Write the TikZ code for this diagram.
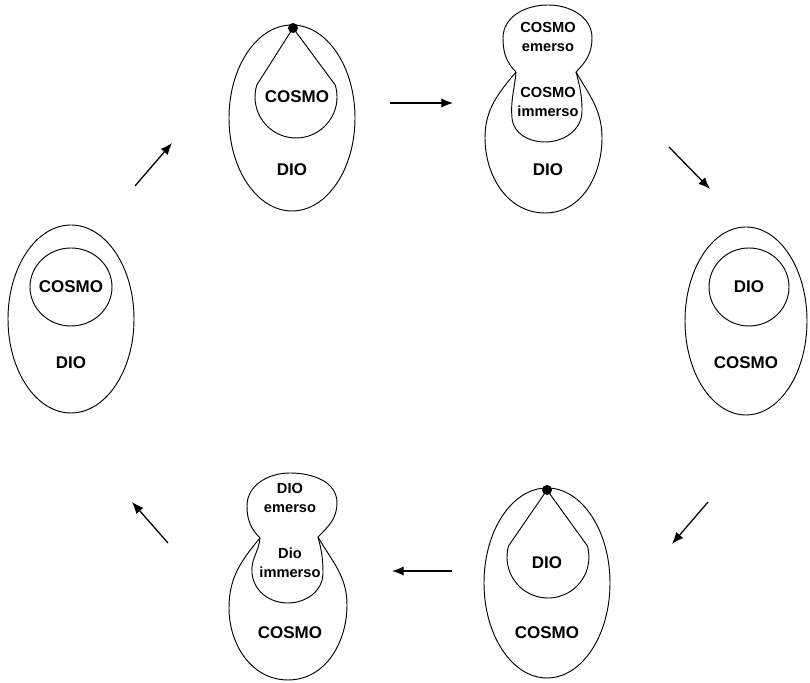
\documentclass[tikz,border=0pt]{standalone}
\usepackage{fontspec}
\setmainfont{Liberation Sans}
\usetikzlibrary{arrows.meta}

\begin{document}
\begin{tikzpicture}[x=0.03cm, y=0.03cm,
  outline/.style={line width=0.8pt},
  biglabel/.style={font=\fontsize{14.5}{16}\selectfont\bfseries},
  smalllabel/.style={font=\fontsize{12.5}{16.5}\selectfont\bfseries, align=center},
  flow/.style={-{Latex[length=10pt,width=8pt]}, line width=1.1pt}]
\useasboundingbox (0,0) rectangle (810,683);

% Stage 1: cosmo inside dio
\draw[outline] (71,364) ellipse (63 and 94);
\draw[outline] (71,396) ellipse (41 and 39);
\node[biglabel] (cosmoA) at (71,396) {COSMO};
\node[biglabel] (dioA) at (71,320) {DIO};

% Stage 2: cosmo hanging from a point of dio
\draw[outline] (292,565) ellipse (63 and 93);
\draw[outline] (293,655) -- (256.8,598) arc[start angle=163, end angle=377, radius=41] -- cycle;
\fill (293,655) circle (5);
\node[biglabel] (cosmoB) at (297,586) {COSMO};
\node[biglabel] (dioB) at (292,513) {DIO};

% Stage 3: cosmo emerging
\draw[outline] (516,611) to[out=135,in=270] (503,645) to[out=90,in=180] (548,678)
  to[out=0,in=90] (592,645) to[out=270,in=45] (576,611);
\draw[outline] (516,611) to[out=230,in=90] (485,545) to[out=270,in=180] (545,470)
  to[out=0,in=270] (602,545) to[out=90,in=300] (576,611);
\draw[outline] (516,611) to[out=265,in=95] (512,565) to[out=275,in=180] (545,541)
  to[out=0,in=270] (582,572) to[out=90,in=285] (576,611);
\node[smalllabel] (cosmoEm) at (548,646) {COSMO\\emerso};
\node[smalllabel] (cosmoIm) at (548,581) {COSMO\\immerso};
\node[biglabel] (dioC) at (548,513) {DIO};

% Stage 4: dio inside cosmo
\draw[outline] (746,362) ellipse (61 and 94);
\draw[outline] (749,396) ellipse (40 and 39);
\node[biglabel] (dioD) at (749,396) {DIO};
\node[biglabel] (cosmoD) at (746,320) {COSMO};

% Stage 5: dio hanging from a point of cosmo
\draw[outline] (547,100) ellipse (63 and 95);
\draw[outline] (547,193) -- (508.5,137) arc[start angle=164.4, end angle=375.6, radius=41] -- cycle;
\fill (547,193) circle (5);
\node[biglabel] (dioE) at (547,120) {DIO};
\node[biglabel] (cosmoE) at (547,50) {COSMO};

% Stage 6: dio emerging
\draw[outline] (260,145) to[out=135,in=270] (247,177) to[out=90,in=180] (290,210)
  to[out=0,in=90] (337,180) to[out=270,in=45] (318,146);
\draw[outline] (260,145) to[out=230,in=90] (229,75) to[out=270,in=180] (288,3)
  to[out=0,in=270] (347,78) to[out=90,in=300] (318,146);
\draw[outline] (260,145) to[out=265,in=95] (252,110) to[out=275,in=180] (288,80)
  to[out=0,in=270] (323,110) to[out=90,in=285] (318,146);
\node[smalllabel] (dioEm) at (290,185) {DIO\\emerso};
\node[smalllabel] (dioIm) at (290,120) {Dio\\immerso};
\node[biglabel] (cosmoF) at (290,50) {COSMO};

% Arrows between stages
\coordinate (a1s) at (135,497); \coordinate (a1e) at (172,540);
\coordinate (a2s) at (390,580); \coordinate (a2e) at (453,580);
\coordinate (a3s) at (669,536); \coordinate (a3e) at (710,494);
\coordinate (a4s) at (708,181); \coordinate (a4e) at (672,139);
\coordinate (a5s) at (452,112); \coordinate (a5e) at (392,112);
\coordinate (a6s) at (168,140); \coordinate (a6e) at (132,181);
\draw[flow] (a1s) -- (a1e);
\draw[flow] (a2s) -- (a2e);
\draw[flow] (a3s) -- (a3e);
\draw[flow] (a4s) -- (a4e);
\draw[flow] (a5s) -- (a5e);
\draw[flow] (a6s) -- (a6e);
\end{tikzpicture}
\end{document}
